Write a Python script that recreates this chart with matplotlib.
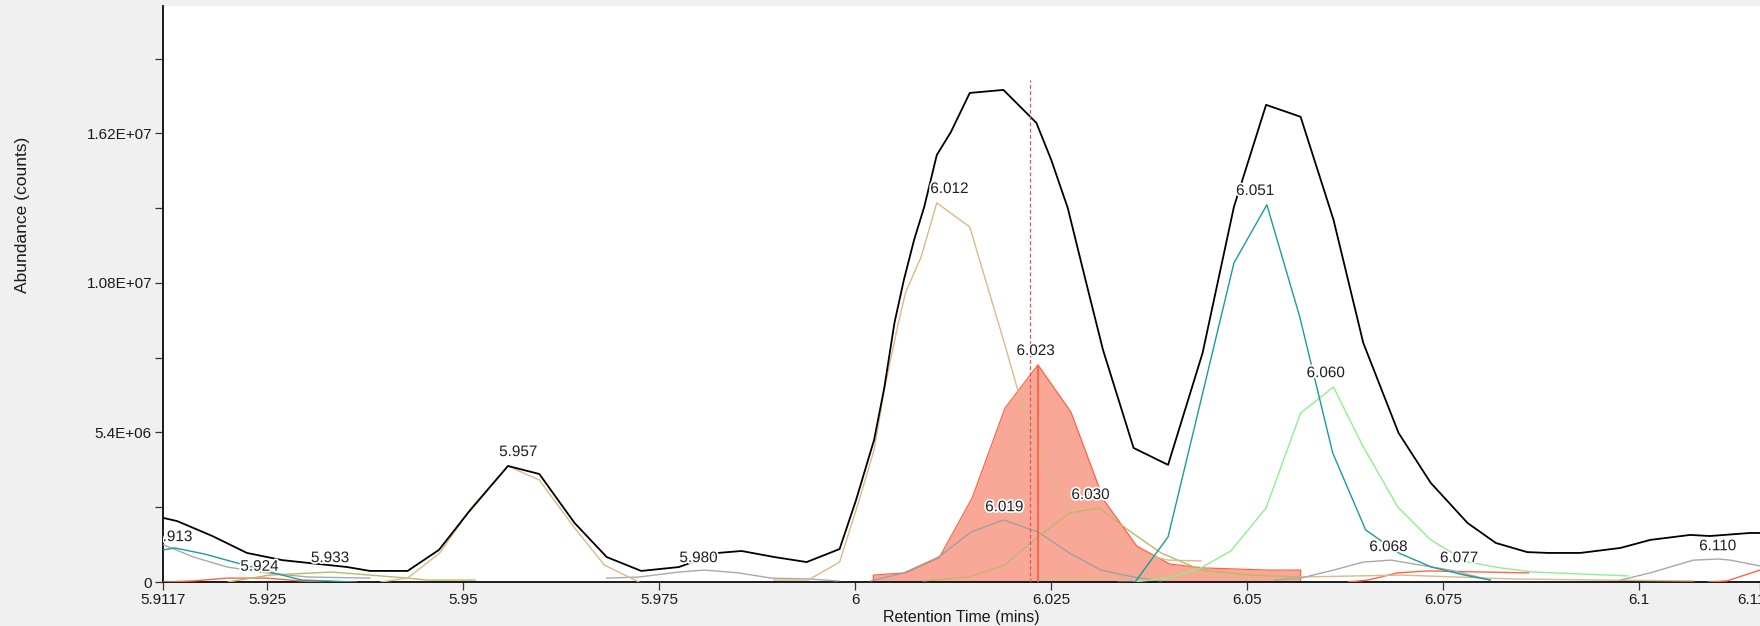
import numpy as np
import matplotlib
matplotlib.use("Agg")
import matplotlib.pyplot as plt
import matplotlib.patheffects as pe

plt.rcParams['font.family'] = ['Liberation Sans', 'DejaVu Sans']

# all abundances below are in millions of counts

# total ion chromatogram (black)
tic_t = [5.9118, 5.9135, 5.9180, 5.9224, 5.9269, 5.9352, 5.9381, 5.9429, 5.9469, 5.9507,
         5.9557, 5.9597, 5.9642, 5.9683, 5.9727, 5.9775, 5.9825, 5.9855, 5.9897, 5.9938,
         5.9980, 6.0001, 6.0024, 6.0037, 6.0050, 6.0062, 6.0075, 6.0088, 6.0104, 6.0122,
         6.0146, 6.0189, 6.0231, 6.0250, 6.0271, 6.0294, 6.0316, 6.0355, 6.0399, 6.0443,
         6.0483, 6.0524, 6.0568, 6.0610, 6.0648, 6.0693, 6.0734, 6.0781, 6.0817, 6.0857,
         6.0883, 6.0925, 6.0976, 6.1014, 6.1065, 6.1090, 6.1141, 6.1154]
tic_v = [2.31, 2.20, 1.66, 1.05, 0.79, 0.54, 0.40, 0.40, 1.16, 2.53,
         4.19, 3.90, 2.13, 0.90, 0.40, 0.54, 1.05, 1.12, 0.90, 0.72,
         1.19, 2.96, 5.13, 7.01, 9.36, 10.91, 12.35, 13.55, 15.42, 16.25,
         17.66, 17.77, 16.58, 15.24, 13.51, 10.87, 8.38, 4.84, 4.23, 8.27,
         13.55, 17.23, 16.80, 13.08, 8.63, 5.38, 3.58, 2.13, 1.41, 1.08,
         1.05, 1.05, 1.23, 1.52, 1.70, 1.66, 1.77, 1.77]

# tan components
tan1_t = [5.9395, 5.9429, 5.9470, 5.9511, 5.9557, 5.9597, 5.9641, 5.9680, 5.9724]
tan1_v = [0.0, 0.14, 1.05, 2.71, 4.19, 3.68, 1.99, 0.61, 0.0]
tan2_t = [5.9896, 5.9940, 5.9980, 6.0005, 6.0024, 6.0037, 6.0055, 6.0064, 6.0084, 6.0104,
          6.0146, 6.0189, 6.0211, 6.0233, 6.0271, 6.0313, 6.0355, 6.0399, 6.0441]
tan2_v = [0.07, 0.07, 0.72, 2.96, 4.77, 6.94, 9.36, 10.44, 11.74, 13.69,
          12.82, 8.74, 6.57, 4.77, 2.71, 1.63, 1.08, 0.79, 0.76]
tan3_t = [6.0237, 6.0313, 6.0441, 6.0568, 6.0696, 6.0839, 6.0950, 6.1069]
tan3_v = [0.14, 0.22, 0.25, 0.18, 0.25, 0.11, 0.07, 0.04]

# teal components
teal1_t = [5.9118, 5.9132, 5.9170, 5.9211, 5.9258, 5.9294, 5.9364]
teal1_v = [1.16, 1.23, 1.01, 0.69, 0.33, 0.07, 0.0]
teal2_t = [6.0335, 6.0357, 6.0399, 6.0441, 6.0483, 6.0525, 6.0567, 6.0609, 6.0651, 6.0693,
           6.0735, 6.0777, 6.0810]
teal2_v = [0.0, 0.0, 1.63, 6.57, 11.52, 13.62, 9.57, 4.66, 1.88, 1.05, 0.54, 0.25, 0.07]

# light green component
green_t = [6.0355, 6.0399, 6.0441, 6.0479, 6.0524, 6.0568, 6.0610, 6.0648, 6.0692, 6.0734,
           6.0781, 6.0823, 6.0865, 6.0925, 6.0986]
green_v = [0.0, 0.14, 0.51, 1.12, 2.67, 6.10, 7.04, 4.88, 2.71, 1.52,
           0.72, 0.51, 0.36, 0.29, 0.22]

# selected component (filled red)
sel_t = [6.0023, 6.0065, 6.0107, 6.0149, 6.0191, 6.0233, 6.0275, 6.0317, 6.0359, 6.0401,
         6.0443, 6.0485, 6.0527, 6.0568]
sel_v = [0.25, 0.33, 0.87, 3.03, 6.28, 7.84, 6.14, 2.96, 1.30, 0.65,
         0.51, 0.47, 0.43, 0.43]

# grey components
grey1_t = [5.9118, 5.9156, 5.9199, 5.9249, 5.9302, 5.9381]
grey1_v = [1.34, 0.90, 0.54, 0.33, 0.18, 0.14]
grey2_t = [5.9683, 5.9724, 5.9775, 5.9808, 5.9851, 5.9893, 5.9940, 5.9978]
grey2_v = [0.14, 0.18, 0.36, 0.43, 0.33, 0.14, 0.11, 0.04]
grey3_t = [6.0020, 6.0062, 6.0106, 6.0148, 6.0189, 6.0233, 6.0273, 6.0313, 6.0355, 6.0390]
grey3_v = [0.04, 0.33, 0.90, 1.81, 2.24, 1.81, 1.05, 0.43, 0.18, 0.04]
grey4_t = [6.0534, 6.0568, 6.0610, 6.0648, 6.0683, 6.0721, 6.0759, 6.0810]
grey4_v = [0.07, 0.14, 0.43, 0.72, 0.79, 0.61, 0.43, 0.07]
grey5_t = [6.0976, 6.1014, 6.1069, 6.1101, 6.1116, 6.1154]
grey5_v = [0.07, 0.33, 0.79, 0.83, 0.79, 0.58]

# olive components
olive1_t = [5.9200, 5.9253, 5.9332, 5.9381, 5.9429, 5.9453, 5.9515]
olive1_v = [0.0, 0.25, 0.36, 0.25, 0.14, 0.07, 0.07]
olive2_t = [6.0087, 6.0144, 6.0190, 6.0233, 6.0273, 6.0311, 6.0348, 6.0390, 6.0441, 6.0504, 6.0568]
olive2_v = [0.04, 0.18, 0.61, 1.63, 2.49, 2.67, 1.88, 1.05, 0.43, 0.25, 0.18]

# small red components near the baseline
red1_t = [5.9118, 5.9156, 5.9199, 5.9249, 5.9292, 5.9321]
red1_v = [0.0, 0.04, 0.14, 0.14, 0.04, 0.0]
red2_t = [6.0629, 6.0654, 6.0692, 6.0730, 6.0801, 6.0859]
red2_v = [0.0, 0.07, 0.33, 0.40, 0.36, 0.33]
red3_t = [6.1088, 6.1112, 6.1154]
red3_v = [0.0, 0.04, 0.43]

# peak apex labels
peak_t = [5.913, 5.924, 5.933, 5.957, 5.980, 6.012, 6.019, 6.023, 6.030, 6.051,
          6.060, 6.068, 6.077, 6.110]
peak_h = [1.12, 0.05, 0.36, 4.19, 0.36, 13.69, 2.20, 7.84, 2.64, 13.62,
          7.04, 0.76, 0.36, 0.79]

cursor_t = 6.0223
cursor_h = 18.13
apex_t = 6.0233

xticks = [5.9117, 5.925, 5.95, 5.975, 6.0, 6.025, 6.05, 6.075, 6.1, 6.1154]
xtick_labels = ['5.9117', '5.925', '5.95', '5.975', '6', '6.025', '6.05', '6.075', '6.1', '6.1154']
yticks = [0, 5.4, 10.8, 16.2]
ytick_labels = ['0', '5.4E+06', '1.08E+07', '1.62E+07']
yminor = [2.7, 8.1, 13.5, 18.9]

M = 1e6

fig = plt.figure(figsize=(17.6, 6.26), dpi=100, facecolor='#f0f0f0')
ax = fig.add_axes([163 / 1760, 44 / 626, 1597 / 1760, 576 / 626])
ax.set_facecolor('white')

# filled selected component
st = np.array(sel_t)
sv = np.array(sel_v) * M
ax.fill_between(st, sv, 0, color='#f9a898', lw=0, zorder=1)
ax.plot(np.r_[st[0], st, st[-1]], np.r_[0, sv, 0], color='#ff6347', lw=0.9, zorder=2)

comps = [
    (red1_t, red1_v, '#ff6347'), (red2_t, red2_v, '#ff6347'), (red3_t, red3_v, '#ff6347'),
    (tan3_t, tan3_v, '#deb887'),
    (grey1_t, grey1_v, '#a9a9a9'), (grey2_t, grey2_v, '#a9a9a9'), (grey3_t, grey3_v, '#a0a0a0'),
    (grey4_t, grey4_v, '#a9a9a9'), (grey5_t, grey5_v, '#a9a9a9'),
    (olive1_t, olive1_v, '#bdb76b'), (olive2_t, olive2_v, '#bdb76b'),
    (tan1_t, tan1_v, '#deb887'), (tan2_t, tan2_v, '#deb887'),
    (green_t, green_v, '#90ee90'),
    (teal1_t, teal1_v, '#1a9c9c'), (teal2_t, teal2_v, '#1a9c9c'),
]
for t, v, c in comps:
    ax.plot(t, np.array(v) * M, color=c, lw=1.0, zorder=3)

ax.plot(tic_t, np.array(tic_v) * M, color='black', lw=1.3, zorder=4)

ax.vlines(apex_t, 0, sel_v[5] * M, colors='#ff5a40', lw=1.2, zorder=5)
ax.vlines(cursor_t, 0, cursor_h * M, colors='#e05555', lw=0.9, linestyles=(0, (3, 2)), zorder=5)

for t, h in zip(peak_t, peak_h):
    ax.annotate(f'{t:.3f}', (t, h * M), xytext=(0, 10), textcoords='offset points',
                ha='center', va='center', fontsize=11, color='#202020', zorder=6,
                clip_on=True,
                path_effects=[pe.withStroke(linewidth=2.5, foreground='white')])

ax.set_xlim(5.9117, 6.1154)
ax.set_ylim(0, 20.8 * M)
ax.set_xticks(xticks)
ax.set_xticklabels(xtick_labels)
ax.set_yticks([y * M for y in yticks])
ax.set_yticklabels(ytick_labels)
ax.set_yticks([y * M for y in yminor], minor=True)

for s in ['top', 'right']:
    ax.spines[s].set_visible(False)
for s in ['left', 'bottom']:
    ax.spines[s].set_linewidth(1.4)
    ax.spines[s].set_color('#1a1a1a')

ax.tick_params(which='both', direction='out', length=6, width=0.9, color='#333333',
               labelsize=11, labelcolor='#1a1a1a', pad=2)

ax.set_xlabel('Retention Time (mins)', fontsize=11.5, color='#1a1a1a')
ax.xaxis.set_label_coords(0.5, -0.048)
ax.set_ylabel('Abundance (counts)', fontsize=12.5, color='#1a1a1a')
ax.yaxis.set_label_coords(-0.083, 0.637)

fig.savefig('out.png', dpi=100, facecolor=fig.get_facecolor())
